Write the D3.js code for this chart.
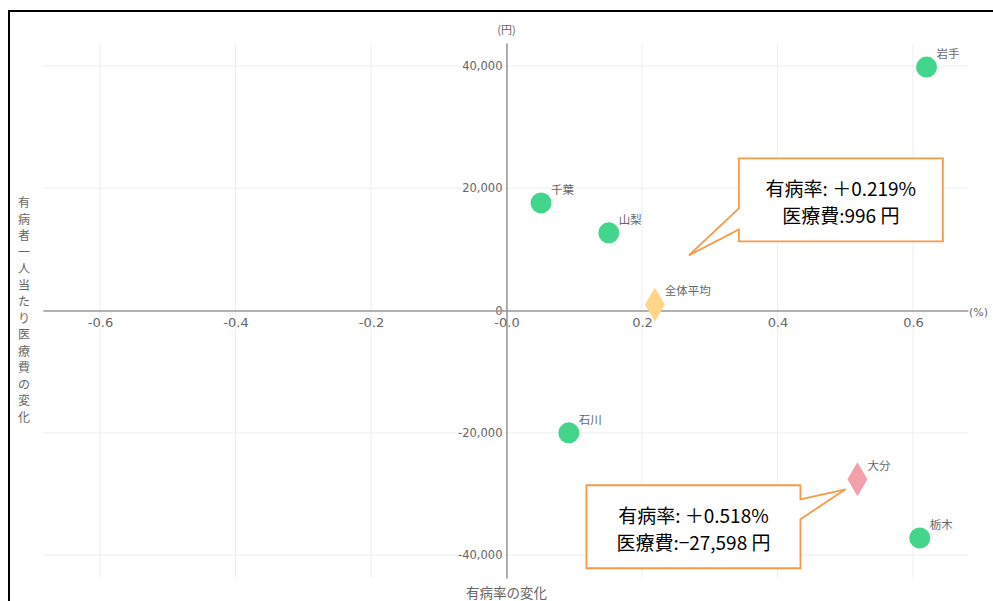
<!DOCTYPE html>
<html><head><meta charset="utf-8">
<script src="https://cdn.jsdelivr.net/npm/d3@7"></script>
<style>body{margin:0;background:#fff;overflow:hidden;} svg{display:block;}</style>
</head><body>
<svg id="chart" width="993" height="601"></svg>
<script>
// ---- data ----
const names = ["岩手", "千葉", "山梨", "全体平均", "石川", "大分", "栃木"];
const rateChange = [0.620, 0.051, 0.151, 0.219, 0.092, 0.518, 0.610];   // 有病率の変化 (%)
const costChange = [39800, 17600, 12700, 996, -20000, -27598, -37200];  // 医療費の変化 (円)
const markerType = ["pref", "pref", "pref", "average", "pref", "highlight", "pref"];

const xTicks = [-0.6, -0.4, -0.2, 0, 0.2, 0.4, 0.6];
const xTickLabels = ["-0.6", "-0.4", "-0.2", "-0.0", "0.2", "0.4", "0.6"];
const yTicks = [-40000, -20000, 0, 20000, 40000];
const yTickLabels = ["-40,000", "-20,000", "0", "20,000", "40,000"];

const yTitle = "有病者一人当たり医療費の変化";
const xTitle = "有病率の変化";

const calloutTargets = ["全体平均", "大分"];
const calloutLine1 = ["有病率: ＋0.219%", "有病率: ＋0.518%"];
const calloutLine2 = ["医療費:996 円", "医療費:−27,598 円"];

// ---- styles ----
const colors = { pref: "#43d58b", average: "#ffd58a", highlight: "#f3a0aa" };
const calloutStroke = "#f79a48";
const jp = "'Noto Sans CJK JP', 'DejaVu Sans', sans-serif";
const lat = "'DejaVu Sans', 'Noto Sans CJK JP', sans-serif";

const svg = d3.select("#chart");
svg.append("rect").attr("width", 993).attr("height", 601).attr("fill", "#fff");
// frame
svg.append("rect").attr("x", 9).attr("y", 11).attr("width", 1200).attr("height", 800)
  .attr("fill", "none").attr("stroke", "#000").attr("stroke-width", 2);

const x = d3.scaleLinear().domain([-0.6841, 0.6812]).range([43, 968]);
const y = d3.scaleLinear().domain([-43745, 43745]).range([578, 43]);

// grid
const grid = svg.append("g");
grid.selectAll("line.vx").data(xTicks).join("line")
  .attr("x1", d => x(d)).attr("x2", d => x(d))
  .attr("y1", y.range()[0]).attr("y2", y.range()[1])
  .attr("stroke", "#eeeeee").attr("stroke-width", 1);
grid.selectAll("line.hy").data(yTicks).join("line")
  .attr("x1", x.range()[0]).attr("x2", x.range()[1])
  .attr("y1", d => y(d)).attr("y2", d => y(d))
  .attr("stroke", "#eeeeee").attr("stroke-width", 1);

// axes
const yAxis = d3.axisLeft(y).tickValues(yTicks).tickFormat((d, i) => yTickLabels[i]).tickSize(0).tickPadding(4);
const gy = svg.append("g").attr("transform", `translate(${x(0)},0)`).call(yAxis);
gy.selectAll("text").attr("fill", "#666").style("font-family", lat).style("font-size", "11.5px");

const xAxis = d3.axisBottom(x).tickValues(xTicks).tickFormat((d, i) => xTickLabels[i]).tickSize(0).tickPadding(7);
const gx = svg.append("g").attr("transform", `translate(0,${y(0)})`).call(xAxis);
gx.selectAll("text").attr("fill", "#666").style("font-family", lat).style("font-size", "13px");

[gx, gy].forEach(g => g.select(".domain").attr("stroke", "#9a9a9a").attr("stroke-width", 1.6));

// unit labels
svg.append("text").attr("x", x(0)).attr("y", 34).attr("text-anchor", "middle")
  .attr("fill", "#666").style("font-family", jp).style("font-size", "11px").text("(円)");
svg.append("text").attr("x", x.range()[1] + 1).attr("y", y(0) + 5)
  .attr("fill", "#666").style("font-family", lat).style("font-size", "11px").text("(%)");

// axis titles
svg.append("text").attr("x", x(0)).attr("y", 598).attr("text-anchor", "middle")
  .attr("fill", "#666").style("font-family", jp).style("font-size", "13.5px").text(xTitle);
svg.append("g").selectAll("text").data(Array.from(yTitle)).join("text")
  .attr("x", 24).attr("y", (d, i) => 203 + i * 16.5).attr("dy", "0.35em")
  .attr("text-anchor", "middle").attr("fill", "#666")
  .style("font-family", jp).style("font-size", "12px").text(d => d);

// points
const pts = names.map((n, i) => ({ name: n, rx: rateChange[i], cy: costChange[i], type: markerType[i] }));
const marks = svg.append("g");
marks.selectAll("circle").data(pts.filter(d => d.type === "pref")).join("circle")
  .attr("cx", d => x(d.rx)).attr("cy", d => y(d.cy)).attr("r", 10.5)
  .attr("fill", d => colors[d.type]);
marks.selectAll("path").data(pts.filter(d => d.type !== "pref")).join("path")
  .attr("d", "M0,-17L10,0L0,17L-10,0Z")
  .attr("transform", d => `translate(${x(d.rx)},${y(d.cy)})`)
  .attr("fill", d => colors[d.type]);
svg.append("g").selectAll("text").data(pts).join("text")
  .attr("x", d => x(d.rx) + 10).attr("y", d => y(d.cy) - 13).attr("dy", "0.35em")
  .attr("fill", "#666").style("font-family", jp).style("font-size", "11.5px").text(d => d.name);

// callouts (box offsets relative to the target point)
const boxLayout = [
  { bx: 84, by: -146, w: 204, h: 83, side: "left", t1: 50, t2: 71, tipDx: 34, tipDy: -49 },
  { bx: -271, by: 6, w: 214, h: 83, side: "right", t1: 14, t2: 34, tipDx: -12, tipDy: 10 }
];
calloutTargets.forEach((name, i) => {
  const p = pts.find(d => d.name === name);
  const px = x(p.rx), py = y(p.cy);
  const L = boxLayout[i];
  const x0 = px + L.bx, y0 = py + L.by, x1 = x0 + L.w, y1 = y0 + L.h;
  const tx = px + L.tipDx, ty = py + L.tipDy;
  let d;
  if (L.side === "left") {
    d = `M${x0},${y0}L${x1},${y0}L${x1},${y1}L${x0},${y1}L${x0},${y0 + L.t2}L${tx},${ty}L${x0},${y0 + L.t1}Z`;
  } else {
    d = `M${x0},${y0}L${x1},${y0}L${x1},${y0 + L.t1}L${tx},${ty}L${x1},${y0 + L.t2}L${x1},${y1}L${x0},${y1}Z`;
  }
  svg.append("path").attr("d", d).attr("fill", "#fff").attr("stroke", calloutStroke).attr("stroke-width", 1.8);
  const cx = (x0 + x1) / 2;
  svg.append("text").attr("x", cx).attr("y", y0 + 37.5).attr("text-anchor", "middle").attr("fill", "#000")
    .style("font-family", jp).style("font-size", "19px").text(calloutLine1[i]);
  svg.append("text").attr("x", cx).attr("y", y0 + 64.5).attr("text-anchor", "middle").attr("fill", "#000")
    .style("font-family", jp).style("font-size", "19px").text(calloutLine2[i]);
});
</script>
</body></html>
